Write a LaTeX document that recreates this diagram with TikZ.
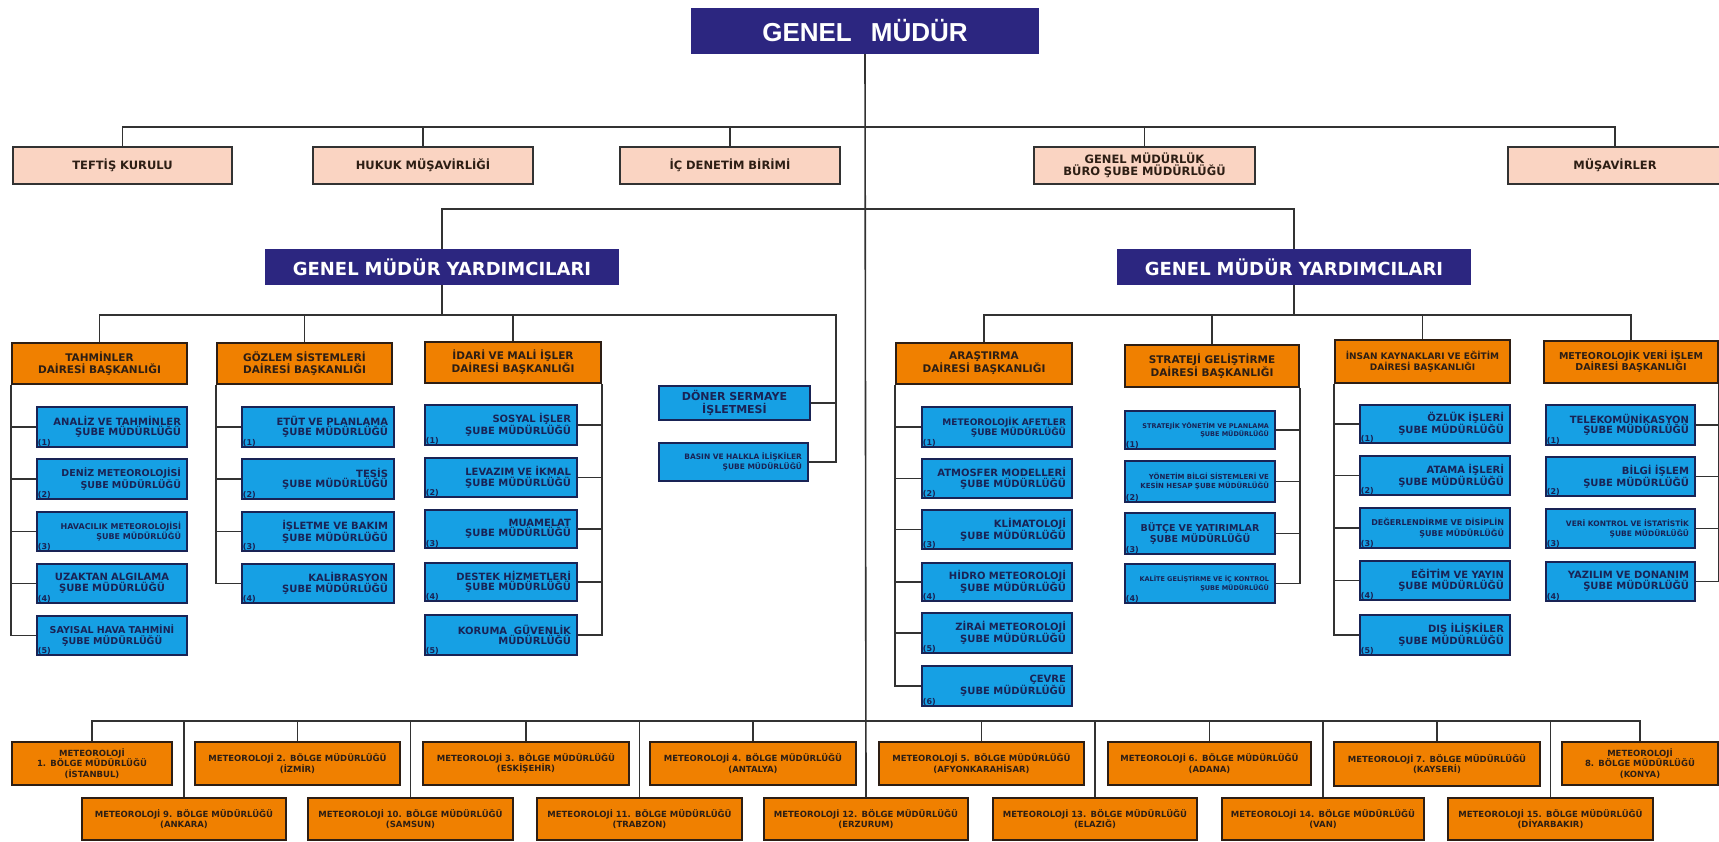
\documentclass[tikz,border=0pt]{standalone}
\usepackage{fontspec}
\setmainfont{DejaVu Sans}
\newfontfamily\dv{DejaVu Sans}
\newfontfamily\lib{Liberation Sans}
\definecolor{indigo}{RGB}{44,38,128}
\definecolor{peach}{RGB}{250,212,194}
\definecolor{org}{RGB}{240,128,0}
\definecolor{sky}{RGB}{22,160,228}
\definecolor{navy}{RGB}{25,35,85}
\definecolor{ink}{RGB}{45,30,20}
\definecolor{ln}{RGB}{50,50,50}
\tikzset{
  base/.style={inner sep=0pt, align=center},
  gmbox/.style={base, fill=indigo, text=white, font=\lib\bfseries\fontsize{26}{28}\selectfont},
  staff/.style={base, fill=peach, draw=ln, line width=1.3pt, text=ink, font=\dv\bfseries\fontsize{11.5}{12.5}\selectfont},
  gmy/.style={base, fill=indigo, text=white, font=\dv\bfseries\fontsize{18}{20}\selectfont},
  dept/.style={base, fill=org, draw=ink, line width=1.5pt, text=ink, font=\dv\bfseries\fontsize{10.5}{11.7}\selectfont},
  sub/.style={base, fill=sky, draw=navy, line width=1.5pt, text=navy, align=right, font=\dv\bfseries\fontsize{10}{10.5}\selectfont},
  reg/.style={base, fill=org, draw=ink, line width=1.5pt, text=ink, text width=198pt, font=\dv\bfseries\fontsize{8.5}{10.5}\selectfont},
  numlab/.style={font=\dv\bfseries\fontsize{8}{8}\selectfont, text=navy, inner sep=1.5pt, anchor=south west},
  nr/.style={label={[numlab]south west:(#1)}},
  fsz/.style n args={2}{font=\dv\bfseries\fontsize{#1}{#2}\selectfont},
  wire/.style={draw=ln, line width=1.6pt},
}
% [opts]{name}{x1}{y1}{x2}{y2}{style}{text}
\newcommand\bx[8][]{%
  \pgfmathsetmacro\bw{#5-#3}\pgfmathsetmacro\bh{#6-#4}\pgfmathsetmacro\tw{#5-#3-12}%
  \node[minimum width=\bw pt, minimum height=\bh pt, text width=\tw pt, #7, #1] (#2) at ({(#3+#5)/2},{(#4+#6)/2}) {#8};}
\begin{document}
\begin{tikzpicture}[x=1pt,y=-1pt]
\useasboundingbox (0,0) rectangle (1719,841);
\fill[white] (0,0) rectangle (1719,841);
% top
\bx{gm}{691}{8}{1039}{54}{gmbox}{GENEL\hspace{0.4em} MÜDÜR}
\bx{teftis}{13}{147}{232}{184}{staff}{TEFTİŞ KURULU}
\bx{hukuk}{313}{147}{533}{184}{staff}{HUKUK MÜŞAVİRLİĞİ}
\bx{icden}{620}{147}{840}{184}{staff}{İÇ DENETİM BİRİMİ}
\bx{buro}{1034}{147}{1255}{184}{staff}{GENEL MÜDÜRLÜK\\BÜRO ŞUBE MÜDÜRLÜĞÜ}
\bx{musav}{1508}{147}{1722}{184}{staff}{MÜŞAVİRLER}
\bx{gmyL}{265}{249}{619}{285}{gmy}{GENEL MÜDÜR YARDIMCILARI}
\bx{gmyR}{1117}{249}{1471}{285}{gmy}{GENEL MÜDÜR YARDIMCILARI}
% departments
\bx{tah}{12}{343}{187}{384}{dept}{TAHMİNLER\\DAİRESİ BAŞKANLIĞI}
\bx{goz}{217}{343}{392}{384}{dept}{GÖZLEM SİSTEMLERİ\\DAİRESİ BAŞKANLIĞI}
\bx{ida}{425}{342}{601}{383}{dept}{İDARİ VE MALİ İŞLER\\DAİRESİ BAŞKANLIĞI}
\bx{ara}{896}{343}{1072}{384}{dept}{ARAŞTIRMA\\DAİRESİ BAŞKANLIĞI}
\bx{str}{1125}{345}{1299}{387}{dept}{STRATEJİ GELİŞTİRME\\DAİRESİ BAŞKANLIĞI}
\bx[fsz={9}{11}]{ins}{1335}{340}{1510}{383}{dept}{İNSAN KAYNAKLARI VE EĞİTİM\\DAİRESİ BAŞKANLIĞI}
\bx[fsz={9.5}{11}]{met}{1544}{341}{1718}{383}{dept}{METEOROLOJİK VERİ İŞLEM\\DAİRESİ BAŞKANLIĞI}
% Tahminler
\bx[nr=1]{tah1}{37}{407}{187}{447}{sub}{ANALİZ VE TAHMİNLER\\ŞUBE MÜDÜRLÜĞÜ}
\bx[nr=2,fsz={9.5}{10.5}]{tah2}{37}{459}{187}{499}{sub}{DENİZ METEOROLOJİSİ\\ŞUBE MÜDÜRLÜĞÜ}
\bx[nr=3,fsz={8}{10.5}]{tah3}{37}{512}{187}{551}{sub}{HAVACILIK METEOROLOJİSİ\\ŞUBE MÜDÜRLÜĞÜ}
\bx[nr=4,align=center]{tah4}{37}{564}{187}{603}{sub}{UZAKTAN ALGILAMA\\ŞUBE MÜDÜRLÜĞÜ}
\bx[nr=5,align=center,fsz={9.5}{10.5}]{tah5}{37}{616}{187}{655}{sub}{SAYISAL HAVA TAHMİNİ\\ŞUBE MÜDÜRLÜĞÜ}
% Gozlem
\bx[nr=1]{goz1}{242}{407}{394}{447}{sub}{ETÜT VE PLANLAMA\\ŞUBE MÜDÜRLÜĞÜ}
\bx[nr=2]{goz2}{242}{459}{394}{499}{sub}{TESİS\\ŞUBE MÜDÜRLÜĞÜ}
\bx[nr=3]{goz3}{242}{512}{394}{551}{sub}{İŞLETME VE BAKIM\\ŞUBE MÜDÜRLÜĞÜ}
\bx[nr=4]{goz4}{242}{564}{394}{603}{sub}{KALİBRASYON\\ŞUBE MÜDÜRLÜĞÜ}
% Idari
\bx[nr=1]{ida1}{425}{405}{577}{445}{sub}{SOSYAL İŞLER\\ŞUBE MÜDÜRLÜĞÜ}
\bx[nr=2]{ida2}{425}{458}{577}{497}{sub}{LEVAZIM VE İKMAL\\ŞUBE MÜDÜRLÜĞÜ}
\bx[nr=3]{ida3}{425}{510}{577}{548}{sub}{MUAMELAT\\ŞUBE MÜDÜRLÜĞÜ}
\bx[nr=4]{ida4}{425}{563}{577}{601}{sub}{DESTEK HİZMETLERİ\\ŞUBE MÜDÜRLÜĞÜ}
\bx[nr=5]{ida5}{425}{615}{577}{655}{sub}{KORUMA\ \ GÜVENLİK\\MÜDÜRLÜĞÜ}
\bx[align=center,fsz={11}{12.5}]{doner}{659}{386}{810}{420}{sub}{DÖNER SERMAYE\\İŞLETMESİ}
\bx[fsz={7.5}{9.5}]{basin}{659}{443}{808}{481}{sub}{BASIN VE HALKLA İLİŞKİLER\\ŞUBE MÜDÜRLÜĞÜ}
% Arastirma
\bx[nr=1,fsz={9}{10.5}]{ara1}{922}{407}{1072}{447}{sub}{METEOROLOJİK AFETLER\\ŞUBE MÜDÜRLÜĞÜ}
\bx[nr=2]{ara2}{922}{459}{1072}{498}{sub}{ATMOSFER MODELLERİ\\ŞUBE MÜDÜRLÜĞÜ}
\bx[nr=3]{ara3}{922}{510}{1072}{549}{sub}{KLİMATOLOJİ\\ŞUBE MÜDÜRLÜĞÜ}
\bx[nr=4]{ara4}{922}{563}{1072}{601}{sub}{HİDRO METEOROLOJİ\\ŞUBE MÜDÜRLÜĞÜ}
\bx[nr=5]{ara5}{922}{613}{1072}{653}{sub}{ZİRAİ METEOROLOJİ\\ŞUBE MÜDÜRLÜĞÜ}
\bx[nr=6]{ara6}{922}{666}{1072}{706}{sub}{ÇEVRE\\ŞUBE MÜDÜRLÜĞÜ}
% Strateji
\bx[nr=1,fsz={6.5}{8.5}]{str1}{1125}{411}{1275}{449}{sub}{STRATEJİK YÖNETİM VE PLANLAMA\\ŞUBE MÜDÜRLÜĞÜ}
\bx[nr=2,fsz={7}{8.5}]{str2}{1125}{461}{1275}{502}{sub}{YÖNETİM BİLGİ SİSTEMLERİ VE\\KESİN HESAP ŞUBE MÜDÜRLÜĞÜ}
\bx[nr=3,align=center,fsz={9.5}{11}]{str3}{1125}{513}{1275}{554}{sub}{BÜTÇE VE YATIRIMLAR\\ŞUBE MÜDÜRLÜĞÜ}
\bx[nr=4,fsz={6.5}{8.5}]{str4}{1125}{564}{1275}{603}{sub}{KALİTE GELİŞTİRME VE İÇ KONTROL\\ŞUBE MÜDÜRLÜĞÜ}
% Insan
\bx[nr=1]{ins1}{1360}{405}{1510}{443}{sub}{ÖZLÜK İŞLERİ\\ŞUBE MÜDÜRLÜĞÜ}
\bx[nr=2]{ins2}{1360}{456}{1510}{495}{sub}{ATAMA İŞLERİ\\ŞUBE MÜDÜRLÜĞÜ}
\bx[nr=3,fsz={8}{10.5}]{ins3}{1360}{508}{1510}{548}{sub}{DEĞERLENDİRME VE DİSİPLİN\\ŞUBE MÜDÜRLÜĞÜ}
\bx[nr=4]{ins4}{1360}{561}{1510}{600}{sub}{EĞİTİM VE YAYIN\\ŞUBE MÜDÜRLÜĞÜ}
\bx[nr=5]{ins5}{1360}{615}{1510}{655}{sub}{DIŞ İLİŞKİLER\\ŞUBE MÜDÜRLÜĞÜ}
% Met veri
\bx[nr=1]{met1}{1546}{405}{1695}{445}{sub}{TELEKOMÜNİKASYON\\ŞUBE MÜDÜRLÜĞÜ}
\bx[nr=2]{met2}{1546}{457}{1695}{496}{sub}{BİLGİ İŞLEM\\ŞUBE MÜDÜRLÜĞÜ}
\bx[nr=3,fsz={7.5}{10}]{met3}{1546}{509}{1695}{548}{sub}{VERİ KONTROL VE İSTATİSTİK\\ŞUBE MÜDÜRLÜĞÜ}
\bx[nr=4]{met4}{1546}{562}{1695}{601}{sub}{YAZILIM VE DONANIM\\ŞUBE MÜDÜRLÜĞÜ}
% regions
\bx[text width=150pt]{r1}{12}{742}{172}{785}{reg}{METEOROLOJİ\\1. BÖLGE MÜDÜRLÜĞÜ\\(İSTANBUL)}
\bx{r2}{195}{742}{400}{785}{reg}{METEOROLOJİ 2. BÖLGE MÜDÜRLÜĞÜ\\(İZMİR)}
\bx{r3}{423}{742}{629}{785}{reg}{METEOROLOJİ 3. BÖLGE MÜDÜRLÜĞÜ\\(ESKİŞEHİR)}
\bx{r4}{650}{742}{856}{785}{reg}{METEOROLOJİ 4. BÖLGE MÜDÜRLÜĞÜ\\(ANTALYA)}
\bx{r5}{879}{742}{1084}{785}{reg}{METEOROLOJİ 5. BÖLGE MÜDÜRLÜĞÜ\\(AFYONKARAHİSAR)}
\bx{r6}{1108}{742}{1311}{785}{reg}{METEOROLOJİ 6. BÖLGE MÜDÜRLÜĞÜ\\(ADANA)}
\bx{r7}{1334}{742}{1540}{786}{reg}{METEOROLOJİ 7. BÖLGE MÜDÜRLÜĞÜ\\(KAYSERİ)}
\bx[text width=146pt]{r8}{1562}{742}{1718}{785}{reg}{METEOROLOJİ\\8. BÖLGE MÜDÜRLÜĞÜ\\(KONYA)}
\bx{r9}{82}{798}{286}{840}{reg}{METEOROLOJİ 9. BÖLGE MÜDÜRLÜĞÜ\\(ANKARA)}
\bx{r10}{308}{798}{513}{840}{reg}{METEOROLOJİ 10. BÖLGE MÜDÜRLÜĞÜ\\(SAMSUN)}
\bx{r11}{537}{798}{742}{840}{reg}{METEOROLOJİ 11. BÖLGE MÜDÜRLÜĞÜ\\(TRABZON)}
\bx{r12}{764}{798}{968}{840}{reg}{METEOROLOJİ 12. BÖLGE MÜDÜRLÜĞÜ\\(ERZURUM)}
\bx{r13}{993}{798}{1197}{840}{reg}{METEOROLOJİ 13. BÖLGE MÜDÜRLÜĞÜ\\(ELAZIĞ)}
\bx{r14}{1222}{798}{1424}{840}{reg}{METEOROLOJİ 14. BÖLGE MÜDÜRLÜĞÜ\\(VAN)}
\bx{r15}{1448}{798}{1653}{840}{reg}{METEOROLOJİ 15. BÖLGE MÜDÜRLÜĞÜ\\(DİYARBAKIR)}
% connectors
\coordinate (sbar) at (866,127);
\coordinate (bar2) at (866,209);
\coordinate (lbar) at (442,315);
\coordinate (dv) at (836,315);
\coordinate (rbar) at (1294,315);
\coordinate (bbar) at (866,721);
\draw[wire] (gm.south) -- (r12.north);
\draw[wire] (teftis.north) |- (sbar) -| (musav.north);
\foreach \n in {hukuk,icden,buro} \draw[wire] (\n.north) -- (\n.north |- sbar);
\draw[wire] (gmyL.north) |- (bar2) -| (gmyR.north);
\draw[wire] (gmyL.south) -- (lbar);
\draw[wire] (tah.north) |- (lbar) -- (dv) |- (basin.east);
\draw[wire] (doner.east) -- (doner.east -| dv);
\foreach \n in {goz,ida} \draw[wire] (\n.north) -- (\n.north |- lbar);
\draw[wire] (gmyR.south) -- (rbar);
\draw[wire] (ara.north) |- (rbar) -| (met.north);
\foreach \n in {str,ins} \draw[wire] (\n.north) -- (\n.north |- rbar);
% department trees
\draw[wire] (tah.south west) |- (tah5.west);
\foreach \i in {1,...,4} \draw[wire] (tah\i.west) -- (tah\i.west -| tah.west);
\draw[wire] (goz.south west) |- (goz4.west);
\foreach \i in {1,...,3} \draw[wire] (goz\i.west) -- (goz\i.west -| goz.west);
\draw[wire] (ida.south east) |- (ida5.east);
\foreach \i in {1,...,4} \draw[wire] (ida\i.east) -- (ida\i.east -| ida.east);
\draw[wire] (ara.south west) |- (ara6.west);
\foreach \i in {1,...,5} \draw[wire] (ara\i.west) -- (ara\i.west -| ara.west);
\draw[wire] (str.south east) |- (str4.east);
\foreach \i in {1,...,3} \draw[wire] (str\i.east) -- (str\i.east -| str.east);
\draw[wire] (ins.south west) |- (ins5.west);
\foreach \i in {1,...,4} \draw[wire] (ins\i.west) -- (ins\i.west -| ins.west);
\draw[wire] (met.south east) |- (met4.east);
\foreach \i in {1,...,3} \draw[wire] (met\i.east) -- (met\i.east -| met.east);
% regions
\draw[wire] (r1.north) |- (bbar) -| (r8.north);
\foreach \n in {r2,r3,r4,r5,r6,r7,r9,r10,r11,r13,r14,r15} \draw[wire] (\n.north) -- (\n.north |- bbar);
\end{tikzpicture}
\end{document}
